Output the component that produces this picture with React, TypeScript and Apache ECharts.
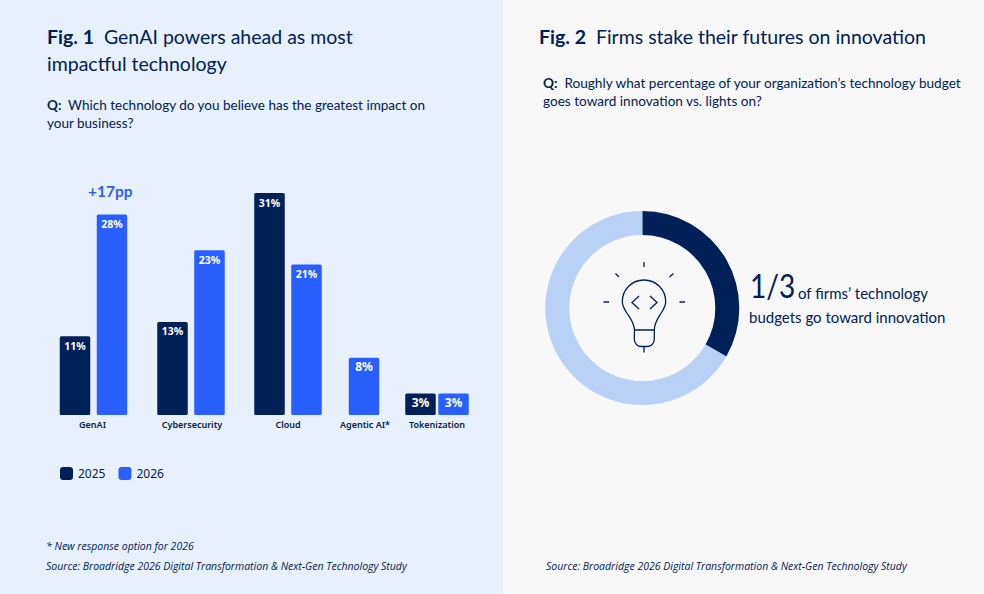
import React, { useEffect, useRef } from "react";
import * as echarts from "echarts";

const categories = ["GenAI", "Cybersecurity", "Cloud", "Agentic AI*", "Tokenization"];
const labelCentres = [92.5, 192, 288, 365, 437];
const values2025 = [11, 13, 31, null, 3];
const values2026 = [28, 23, 21, 8, 3];
const centres2025 = [75, 172.5, 269.5, null, 420.5];
const centres2026 = [112, 209.5, 306.5, 364, 453.5];

const NAVY = "#002058";
const BLUE = "#2A5FFF";
const FONT = '"Noto Sans", sans-serif';
const HEAD = 'Lato, sans-serif';
const NOTE = '"Open Sans", sans-serif';
const bulbPath =
  "M634.5 330 C634 322 630 318 626.5 312.5 C623.5 308 622.3 305 622.3 301.5 C622.3 289.5 632 280 644 280 C656 280 665.7 289.5 665.7 301.5 C665.7 305 664.5 308 661.5 312.5 C658 318 654.5 322 654.3 330 L654.3 339 C654.3 343.5 651 346.5 647 346.5 L641.5 346.5 C637.5 346.5 634.3 343.5 634.3 339 Z M634.5 330 L654.3 330 M644 346.5 L644 352.5 M639 296 L632 302.5 L639 309 M650 296 L657 302.5 L650 309 M644 262 L644 267 M615.5 273.5 L619 277 M669.5 277 L673.5 273.5 M603.5 302 L609 302 M679.5 302 L685 302";

echarts.graphic.registerShape("bulb", echarts.graphic.extendPath(bulbPath, {}));

function pairs(xs: (number | null)[], ys: (number | null)[]) {
  return xs.flatMap((x, i) =>
    x === null
      ? []
      : [{ value: [x, ys[i]], label: (ys[i] as number) <= 8 ? { fontSize: 12, distance: 3 } : {} }]
  );
}

function text(x: number, y: number, t: string, fontSize: number, extra: any = {}) {
  return {
    type: "text",
    x,
    y,
    silent: true,
    style: { text: t, fontSize, fill: NAVY, fontFamily: HEAD, textVerticalAlign: "middle", ...extra },
  };
}

function richText(x: number, y: number, t: string, fontSize: number) {
  return text(x, y, t, fontSize, {
    rich: { b: { fontSize, fontWeight: 700, fill: NAVY, fontFamily: HEAD } },
  });
}

export default function App() {
  const ref = useRef<HTMLDivElement>(null);
  useEffect(() => {
    document.body.style.margin = "0";
    const chart = echarts.init(ref.current!, undefined, { renderer: "svg" });
    const barLabel = {
      show: true,
      position: "insideTop",
      distance: 4,
      color: "#fff",
      fontFamily: FONT,
      fontWeight: 700,
      fontSize: 10.5,
      formatter: (p: any) => `${p.value[1]}%`,
    };
    chart.setOption({
      animation: false,
      backgroundColor: "#fff",
      grid: { left: 0, right: 0, top: 193, height: 222, containLabel: false },
      legend: {
        left: 60,
        top: 467,
        itemWidth: 13,
        itemHeight: 13,
        itemGap: 13,
        icon: "roundRect",
        padding: 0,
        textStyle: { color: NAVY, fontFamily: FONT, fontSize: 12 },
        data: ["2025", "2026"],
      },
      xAxis: {
        type: "value",
        min: 0,
        max: 984,
        axisLine: { show: false },
        axisTick: { show: false },
        splitLine: { show: false },
        axisLabel: {
          customValues: labelCentres,
          formatter: (v: number) => categories[labelCentres.indexOf(v)] ?? "",
          color: NAVY,
          fontFamily: FONT,
          fontWeight: 600,
          fontSize: 9,
          margin: 5,
          hideOverlap: false,
        },
      },
      yAxis: { type: "value", min: 0, max: 31, show: false },
      graphic: {
        elements: [
          { type: "rect", z: -10, silent: true, shape: { x: 0, y: 0, width: 503, height: 594 }, style: { fill: "#E8F0FD" } },
          { type: "rect", z: -10, silent: true, shape: { x: 503, y: 0, width: 481, height: 594 }, style: { fill: "#F8F8F8" } },
          richText(47, 36, "{b|Fig. 1}  GenAI powers ahead as most", 19.5),
          text(47, 63, "impactful technology", 19.5),
          richText(47, 105, "{b|Q:}  Which technology do you believe has the greatest impact on", 13.5),
          text(47, 123, "your business?", 13.5),
          text(88, 191, "+17pp", 15.5, { fill: BLUE, fontWeight: 700 }),
          text(46, 546, "* New response option for 2026", 10.5, { fontStyle: "italic", fontFamily: NOTE }),
          text(46, 566, "Source: Broadridge 2026 Digital Transformation & Next-Gen Technology Study", 10.5, { fontStyle: "italic", fontFamily: NOTE }),
          text(546, 566, "Source: Broadridge 2026 Digital Transformation & Next-Gen Technology Study", 10.5, { fontStyle: "italic", fontFamily: NOTE }),
          richText(539, 36, "{b|Fig. 2}  Firms stake their futures on innovation", 19.5),
          richText(543, 83, "{b|Q:}  Roughly what percentage of your organization\u2019s technology budget", 13.6),
          text(543, 101, "goes toward innovation vs. lights on?", 13.6),
          { ...text(750, 286, "1/3", 33), scaleX: 0.85 },
          text(798, 293, "of firms\u2019 technology", 15),
          text(749, 317, "budgets go toward innovation", 15),
          { type: "bulb", silent: true, style: { fill: "none", stroke: NAVY, lineWidth: 1.3 } },
        ],
      },
      series: [
        {
          name: "2025",
          type: "bar",
          barWidth: 30.5,
          barGap: "-100%",
          itemStyle: { color: NAVY, borderRadius: 1.5 },
          label: barLabel,
          data: pairs(centres2025, values2025),
        },
        {
          name: "2026",
          type: "bar",
          barWidth: 30.5,
          barGap: "-100%",
          itemStyle: { color: BLUE, borderRadius: 1.5 },
          label: barLabel,
          data: pairs(centres2026, values2026),
        },
        {
          type: "pie",
          center: [642.3, 308],
          radius: [73, 97],
          startAngle: 90,
          silent: true,
          label: { show: false },
          labelLine: { show: false },
          data: [
            { name: "Innovation", value: 1, itemStyle: { color: NAVY } },
            { name: "Lights on", value: 2, itemStyle: { color: "#B9D1F7" } },
          ],
        },
      ],
    });
    return () => chart.dispose();
  }, []);
  return <div ref={ref} style={{ width: 984, height: 594 }} />;
}
